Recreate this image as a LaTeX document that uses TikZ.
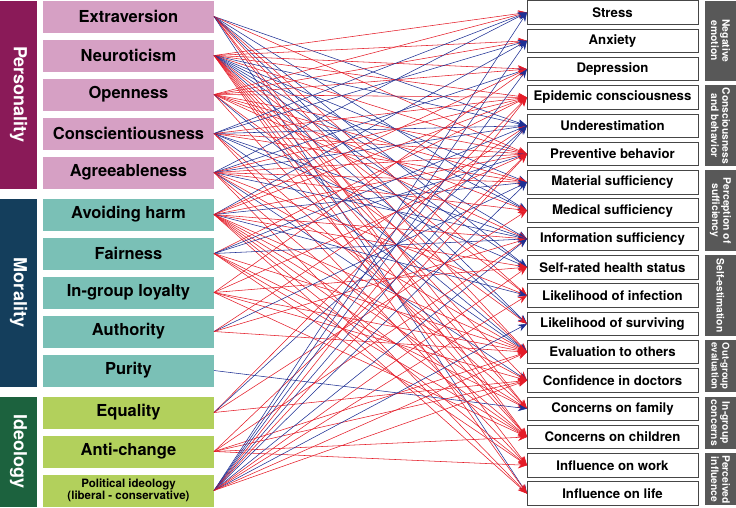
\documentclass[tikz,border=0pt]{standalone}
\usepackage{fontspec}
\setmainfont{TeX Gyre Heros}
\usepackage{xcolor}
\usepackage{tikz}
\usetikzlibrary{arrows.meta,positioning,calc}
\definecolor{persbar}{RGB}{138,26,88}
\definecolor{persbox}{RGB}{214,160,196}
\definecolor{morbar}{RGB}{20,62,92}
\definecolor{morbox}{RGB}{122,192,182}
\definecolor{ideobar}{RGB}{28,98,62}
\definecolor{ideobox}{RGB}{178,208,92}
\definecolor{catgray}{RGB}{88,88,88}
\definecolor{boxline}{RGB}{70,70,70}
\definecolor{ered}{RGB}{228,28,40}
\definecolor{eblue}{RGB}{30,48,148}

\begin{document}
\begin{tikzpicture}[x=1pt, y=1pt]
    \tikzstyle{leftbox} = [rectangle, minimum height=32pt, minimum width=171pt, inner sep=0pt, outer sep=0pt, align=center, font=\fontsize{16.5}{18}\selectfont\bfseries]
    \tikzstyle{rightbox} = [draw=boxline, fill=white, rectangle, minimum height=23.5pt, minimum width=171pt, inner sep=0pt, outer sep=0pt, line width=0.8pt, font=\fontsize{13.2}{15}\selectfont\bfseries]
    \tikzstyle{groupbar} = [rectangle, rotate=-90, inner sep=0pt, outer sep=0pt, minimum height=37pt, text=white, align=center, font=\fontsize{18}{20}\selectfont\bfseries]
    \tikzstyle{catbar} = [rectangle, rotate=-90, fill=catgray, inner sep=0pt, outer sep=0pt, minimum height=31pt, text=white, align=center, font=\fontsize{10.3}{11.2}\selectfont\bfseries]
    \tikzstyle{edge} = [-{Stealth[length=9pt,width=7pt]}, line width=0.55pt]

    \useasboundingbox (0,0) rectangle (736,-507);

    % left column
    \node [leftbox, fill=persbox] (l1) at (128.5,-16.5) {Extraversion};
    \node [leftbox, fill=persbox, below=7pt of l1] (l2) {Neuroticism};
    \node [leftbox, fill=persbox, below=7pt of l2] (l3) {Openness};
    \node [leftbox, fill=persbox, below=7pt of l3] (l4) {Conscientiousness};
    \node [leftbox, fill=persbox, below=7pt of l4] (l5) {Agreeableness};
    \node [leftbox, fill=morbox, below=10pt of l5] (l6) {Avoiding harm};
    \node [leftbox, fill=morbox, below=7pt of l6] (l7) {Fairness};
    \node [leftbox, fill=morbox, below=7pt of l7] (l8) {In-group loyalty};
    \node [leftbox, fill=morbox, below=7pt of l8] (l9) {Authority};
    \node [leftbox, fill=morbox, below=7pt of l9] (l10) {Purity};
    \node [leftbox, fill=ideobox, below=10pt of l10] (l11) {Equality};
    \node [leftbox, fill=ideobox, below=7pt of l11] (l12) {Anti-change};
    \node [leftbox, fill=ideobox, below=7pt of l12, font=\fontsize{11.5}{12.5}\selectfont\bfseries] (l13) {Political ideology\\(liberal - conservative)};

    \node [groupbar, fill=persbar, minimum width=188pt] (personality) at ($(l3)+(-110,0)$) {Personality};
    \node [groupbar, fill=morbar, minimum width=188pt] (morality) at ($(l8)+(-110,0)$) {Morality};
    \node [groupbar, fill=ideobar, minimum width=110pt] (ideology) at ($(l12)+(-110,0)$) {Ideology};

    % right column
    \node [rightbox] (r1) at (612.5,-12.5) {Stress};
    \node [rightbox, below=4.8pt of r1] (r2) {Anxiety};
    \node [rightbox, below=4.8pt of r2] (r3) {Depression};
    \node [rightbox, below=4.8pt of r3] (r4) {Epidemic consciousness};
    \node [rightbox, below=4.8pt of r4] (r5) {Underestimation};
    \node [rightbox, below=4.8pt of r5] (r6) {Preventive behavior};
    \node [rightbox, below=4.8pt of r6] (r7) {Material sufficiency};
    \node [rightbox, below=4.8pt of r7] (r8) {Medical sufficiency};
    \node [rightbox, below=4.8pt of r8] (r9) {Information sufficiency};
    \node [rightbox, below=4.8pt of r9] (r10) {Self-rated health status};
    \node [rightbox, below=4.8pt of r10] (r11) {Likelihood of infection};
    \node [rightbox, below=4.8pt of r11] (r12) {Likelihood of surviving};
    \node [rightbox, below=4.8pt of r12] (r13) {Evaluation to others};
    \node [rightbox, below=4.8pt of r13] (r14) {Confidence in doctors};
    \node [rightbox, below=4.8pt of r14] (r15) {Concerns on family};
    \node [rightbox, below=4.8pt of r15] (r16) {Concerns on children};
    \node [rightbox, below=4.8pt of r16] (r17) {Influence on work};
    \node [rightbox, below=4.8pt of r17] (r18) {Influence on life};

    \node [catbar, minimum width=80pt] (negemo) at ($(r2)+(108,0)$) {Negative\\emotion};
    \node [catbar, minimum width=80.5pt] (consc) at ($(r5)+(108,0)$) {Consciousness\\and behavior};
    \node [catbar, minimum width=80.5pt] (suff) at ($(r8)+(108,0)$) {Perception of\\sufficiency};
    \node [catbar, minimum width=80.5pt] (selfest) at ($(r11)+(108,0)$) {Self-estimation};
    \node [catbar, minimum width=52pt, font=\fontsize{9.6}{10.8}\selectfont\bfseries] (outgrp) at ($(r13)!0.5!(r14)+(108,0)$) {Out-group\\evaluation};
    \node [catbar, minimum width=52pt] (ingrp) at ($(r15)!0.5!(r16)+(108,0)$) {In-group\\concerns};
    \node [catbar, minimum width=52pt] (influ) at ($(r17)!0.5!(r18)+(108,0)$) {Perceived\\influence};

    % paths: left node / right node / colour
    \foreach \a/\b/\c in {
        1/5/eblue, 1/6/ered, 1/8/eblue, 1/10/eblue, 1/11/ered, 1/12/eblue, 1/13/ered, 1/15/ered, 1/16/ered, 1/18/eblue,
        2/1/ered, 2/2/ered, 2/3/ered, 2/4/ered, 2/5/eblue, 2/6/ered, 2/7/eblue, 2/8/eblue, 2/9/eblue, 2/10/eblue, 2/11/ered,
        2/12/eblue, 2/13/ered, 2/14/ered, 2/15/ered, 2/16/ered, 2/17/ered, 2/18/ered,
        3/1/ered, 3/2/ered, 3/3/ered, 3/4/ered, 3/6/ered, 3/7/ered, 3/8/ered, 3/9/ered, 3/12/ered, 3/13/eblue, 3/16/ered,
        4/1/eblue, 4/2/eblue, 4/4/ered, 4/5/eblue, 4/6/ered, 4/7/ered, 4/9/eblue, 4/10/eblue, 4/13/eblue, 4/15/ered, 4/17/ered,
        5/1/eblue, 5/3/eblue, 5/4/ered, 5/5/eblue, 5/6/ered, 5/7/ered, 5/8/ered, 5/9/eblue, 5/11/ered, 5/13/ered, 5/14/eblue, 5/16/ered, 5/18/ered,
        6/2/eblue, 6/3/ered, 6/4/ered, 6/6/ered, 6/7/eblue, 6/9/ered, 6/10/ered, 6/11/eblue, 6/13/ered, 6/14/ered, 6/15/ered, 6/16/ered, 6/17/ered, 6/18/ered,
        7/4/ered, 7/5/eblue, 7/6/eblue, 7/9/eblue, 7/13/ered, 7/15/ered, 7/16/ered, 7/17/ered,
        8/3/ered, 8/6/ered, 8/10/ered, 8/13/ered, 8/14/ered, 8/16/ered,
        9/5/ered, 9/7/eblue, 9/9/ered, 9/13/ered,
        10/15/eblue,
        11/4/ered, 11/5/eblue, 11/8/ered, 11/14/ered,
        12/6/ered, 12/9/ered, 12/13/ered, 12/14/ered, 12/16/ered, 12/17/ered,
        13/1/eblue, 13/2/eblue, 13/3/eblue, 13/4/ered, 13/5/eblue, 13/6/ered, 13/7/eblue, 13/9/eblue, 13/10/ered, 13/11/ered, 13/12/eblue, 13/13/ered, 13/14/ered}
        \draw [edge, \c] (l\a.east) -- (r\b.west);
\end{tikzpicture}
\end{document}
